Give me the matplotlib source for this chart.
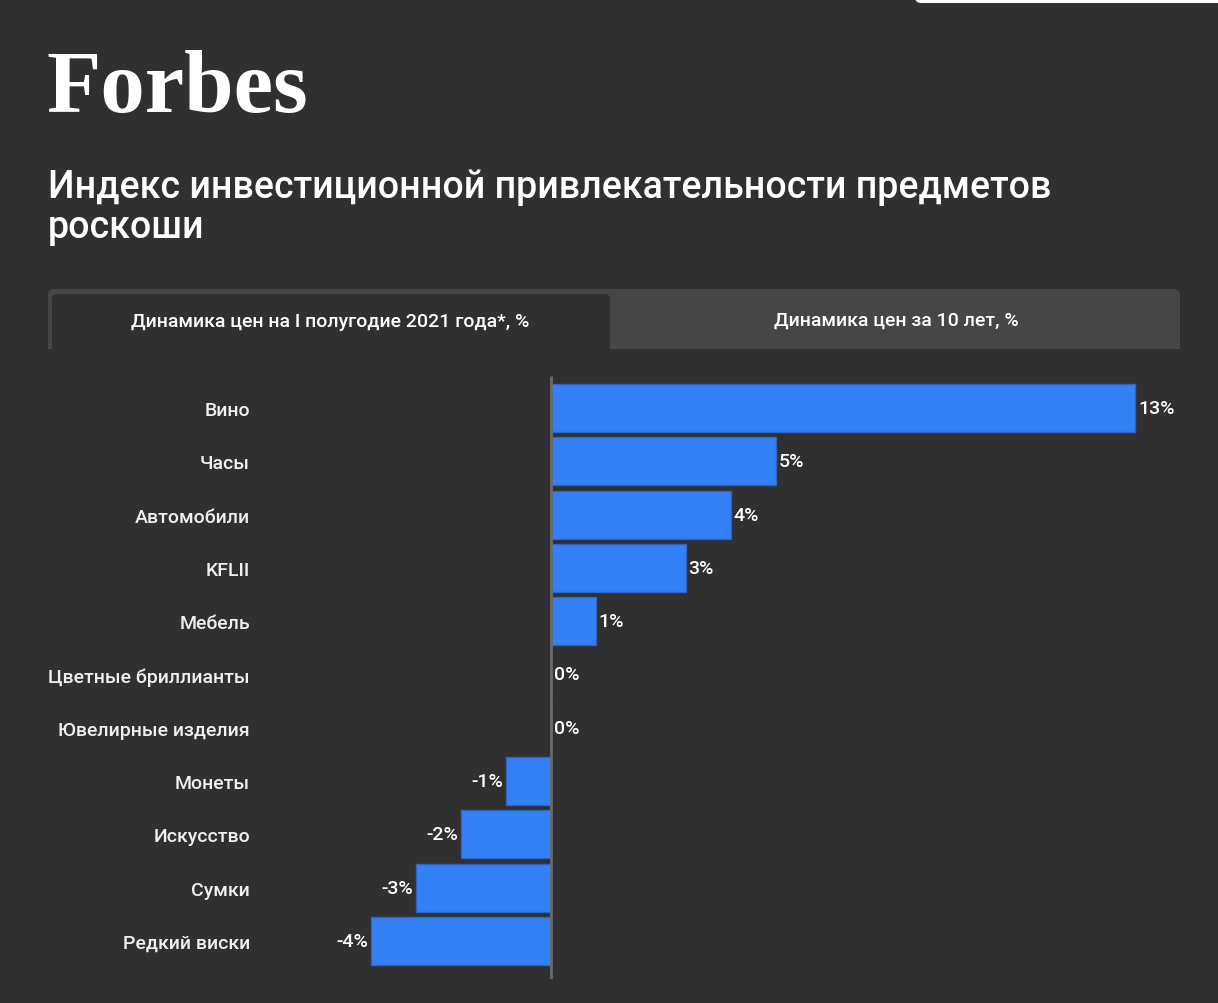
import matplotlib
matplotlib.use("Agg")
import matplotlib.pyplot as plt
from matplotlib.patches import FancyBboxPatch, Rectangle
import numpy as np

categories = ["Вино", "Часы", "Автомобили", "KFLII", "Мебель", "Цветные бриллианты",
              "Ювелирные изделия", "Монеты", "Искусство", "Сумки", "Редкий виски"]
values = [13, 5, 4, 3, 1, 0, 0, -1, -2, -3, -4]
value_labels = ["13%", "5%", "4%", "3%", "1%", "0%", "0%", "-1%", "-2%", "-3%", "-4%"]
tabs = ["Динамика цен на I полугодие 2021 года*, %", "Динамика цен за 10 лет, %"]

BG = "#303030"
TABBAR = "#464646"
BAR = "#3381f5"
BAR_EDGE = "#2a66c4"
TXT = "#ffffff"
FONT = ["Roboto", "DejaVu Sans"]

W, H = 1218, 1004
fig = plt.figure(figsize=(W / 100, H / 100), dpi=100, facecolor=BG)

bg = fig.add_axes([0, 0, 1, 1], zorder=0)
bg.set_xlim(0, W)
bg.set_ylim(H, 0)
bg.axis("off")
bg.set_facecolor(BG)

bg.add_patch(FancyBboxPatch((915, -20), 310, 24, boxstyle="round,pad=0,rounding_size=6",
                            facecolor="white", edgecolor="none"))

# Forbes logo
bg.text(46, 112, "Forbes", fontsize=64, fontweight="bold", family=["Liberation Serif", "DejaVu Serif"],
        color="white", ha="left", va="baseline")

# title
bg.text(48, 198, "Индекс инвестиционной привлекательности предметов", fontsize=27, fontweight="medium",
        family=FONT, color=TXT, ha="left", va="baseline")
bg.text(48, 238, "роскоши", fontsize=27, fontweight="medium",
        family=FONT, color=TXT, ha="left", va="baseline")

# tab bar
bg.add_patch(FancyBboxPatch((48, 290), 1132, 60, boxstyle="round,pad=0,rounding_size=6",
                            facecolor=TABBAR, edgecolor="none"))
bg.add_patch(Rectangle((48, 330), 1132, 20, facecolor=TABBAR, edgecolor="none"))
bg.add_patch(FancyBboxPatch((52, 295), 558, 55, boxstyle="round,pad=0,rounding_size=5",
                            facecolor=BG, edgecolor="none"))
bg.add_patch(Rectangle((52, 330), 558, 21, facecolor=BG, edgecolor="none"))
bg.text(330, 322, tabs[0], fontsize=14, fontweight="medium", family=FONT, color=TXT,
        ha="center", va="center")
bg.text(896, 321, tabs[1], fontsize=14, fontweight="medium", family=FONT, color=TXT,
        ha="center", va="center")

# bar chart axes
ax_left_px, ax_right_px = 300, 1180
zero_px, px_per_unit = 551, 44.95
top_px, bot_px = 377, 980
ax = fig.add_axes([ax_left_px / W, 1 - bot_px / H, (ax_right_px - ax_left_px) / W, (bot_px - top_px) / H],
                  zorder=1)
ax.patch.set_alpha(0)
ax.set_xlim((ax_left_px - zero_px) / px_per_unit, (ax_right_px - zero_px) / px_per_unit)
spacing = 53.3
y = np.arange(len(categories))
ax.set_ylim(len(categories) - 1 + (bot_px - 942) / spacing, -(409 - top_px) / spacing)

ax.barh(y, values, height=0.9, color=BAR, edgecolor=BAR_EDGE, linewidth=1.0, zorder=2)
ax.plot([0, 0], [ax.get_ylim()[0], ax.get_ylim()[1]], color="#6a6a6a", lw=2, zorder=3,
        solid_capstyle="butt")

for yi, v, lab in zip(y, values, value_labels):
    if v >= 0:
        ax.annotate(lab, (v, yi), xytext=(2, 0), textcoords="offset points", ha="left", va="center",
                    fontsize=14, fontweight="medium", family=FONT, color=TXT)
    else:
        ax.annotate(lab, (v, yi), xytext=(-2, 0), textcoords="offset points", ha="right", va="center",
                    fontsize=14, fontweight="medium", family=FONT, color=TXT)

ax.set_yticks(y)
ax.set_yticklabels(categories, fontsize=14, fontweight="medium", family=FONT, color="#f0f0f0")
ax.tick_params(axis="y", length=0, pad=(ax_left_px - 250) * 0.72)
ax.set_xticks([])
for s in ax.spines.values():
    s.set_visible(False)

fig.savefig("out.png", dpi=100, facecolor=BG)
